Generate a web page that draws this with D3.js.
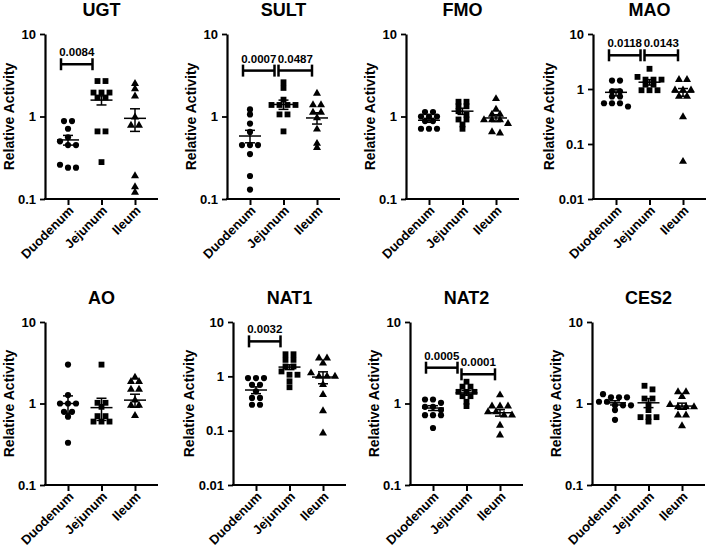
<!DOCTYPE html>
<html>
<head>
<meta charset="utf-8">
<script src="https://cdn.jsdelivr.net/npm/d3@7/dist/d3.min.js"></script>
<style>
  body { margin: 0; background: #fff; }
  svg { display: block; }
  text { font-family: Arial, "Liberation Sans", sans-serif; font-weight: bold; fill: #000; }
</style>
</head>
<body>
<svg id="chart" width="709" height="551"></svg>
<script>
// --- data ---
const groups = ["Duodenum", "Jejunum", "Ileum"];
const enzymes = ["UGT", "SULT", "FMO", "MAO", "AO", "NAT1", "NAT2", "CES2"];
const ticksShort = [0.1, 1, 10];
const ticksLong = [0.01, 0.1, 1, 10];

// relative activity per donor: [Duodenum, Jejunum, Ileum]
const ugt = [
  [0.88, 0.88, 0.71, 0.56, 0.50, 0.45, 0.45, 0.26, 0.24, 0.24],
  [2.69, 2.69, 1.95, 1.95, 1.95, 1.70, 1.70, 0.66, 0.66, 0.28],
  [2.5, 2.16, 1.76, 0.98, 0.78, 0.78, 0.19, 0.14, 0.12]
];
const sult = [
  [1.22, 1.06, 0.82, 0.65, 0.45, 0.45, 0.45, 0.35, 0.19, 0.13],
  [2.6, 2.22, 1.6, 1.38, 1.38, 1.38, 1.38, 1.06, 1.06, 0.66],
  [1.9, 1.38, 1.38, 1.12, 1.12, 0.96, 0.70, 0.47, 0.42]
];
const fmo = [
  [1.13, 1.13, 1.0, 1.0, 1.0, 0.88, 0.88, 0.71, 0.71, 0.71],
  [1.51, 1.51, 1.33, 1.33, 1.16, 1.05, 0.92, 0.92, 0.80, 0.71],
  [1.64, 1.22, 1.06, 1.06, 0.91, 0.91, 0.91, 0.82, 0.65, 0.63]
];
const mao = [
  [1.42, 1.42, 0.91, 0.91, 0.73, 0.73, 0.55, 0.55, 0.55, 0.48],
  [2.33, 1.66, 1.48, 1.48, 1.48, 1.2, 1.2, 0.95, 0.95, 0.95],
  [1.48, 1.48, 0.95, 0.95, 0.95, 0.73, 0.73, 0.31, 0.048]
];
const ao = [
  [3.0, 1.27, 1.0, 1.0, 1.0, 0.79, 0.79, 0.69, 0.33],
  [3.0, 1.02, 1.02, 0.91, 0.70, 0.70, 0.60, 0.60, 0.60],
  [2.09, 1.85, 1.85, 1.49, 1.49, 1.1, 0.95, 0.95, 0.71]
];
const nat1 = [
  [0.93, 0.93, 0.93, 0.70, 0.70, 0.53, 0.40, 0.40, 0.30, 0.30],
  [2.55, 2.55, 2.01, 2.01, 1.52, 1.52, 1.23, 1.07, 1.07, 0.81, 0.63],
  [2.16, 2.16, 1.75, 1.15, 1.0, 1.0, 1.0, 0.70, 0.46, 0.23, 0.09]
];
const nat2 = [
  [1.12, 1.12, 1.02, 0.91, 0.91, 0.83, 0.72, 0.72, 0.72, 0.50],
  [1.85, 1.61, 1.61, 1.39, 1.39, 1.39, 1.23, 1.23, 1.05, 0.93],
  [1.27, 0.93, 0.93, 0.93, 0.79, 0.79, 0.72, 0.72, 0.54, 0.41]
];
const ces2 = [
  [1.30, 1.19, 1.19, 1.19, 1.05, 1.05, 0.95, 0.95, 0.95, 0.83, 0.63],
  [1.65, 1.49, 1.15, 1.15, 0.97, 0.83, 0.68, 0.68, 0.68, 0.60],
  [1.39, 1.39, 1.21, 0.97, 0.91, 0.91, 0.91, 0.72, 0.72, 0.53]
];

// group mean and SEM as drawn
const means = {
  UGT: [0.52, 1.58, 0.95], SULT: [0.58, 1.40, 0.96], FMO: [0.90, 1.16, 0.96], MAO: [0.87, 1.33, 0.88],
  AO: [1.0, 0.89, 1.1], NAT1: [0.56, 1.48, 0.97], NAT2: [0.88, 1.35, 0.77], CES2: [1.02, 1.02, 0.93]
};
const sems = {
  UGT: [0.07, 0.2, 0.29], SULT: [0.1, 0.18, 0.15], FMO: [0.05, 0.1, 0.09], MAO: [0.12, 0.15, 0.14],
  AO: [0.24, 0.27, 0.2], NAT1: [0.08, 0.15, 0.24], NAT2: [0.06, 0.09, 0.07], CES2: [0.06, 0.13, 0.08]
};

// significance brackets: groups compared, p value, height (relative activity)
const brackets = {
  UGT: [[0, 1, "0.0084", 4.3]],
  SULT: [[0, 1, "0.0007", 3.6], [1, 2, "0.0487", 3.6]],
  MAO: [[0, 1, "0.0118", 4.1], [1, 2, "0.0143", 4.1]],
  NAT1: [[0, 1, "0.0032", 4.4]],
  NAT2: [[0, 1, "0.0005", 2.75], [1, 2, "0.0001", 2.28]]
};

const values = { UGT: ugt, SULT: sult, FMO: fmo, MAO: mao, AO: ao, NAT1: nat1, NAT2: nat2, CES2: ces2 };
const longAxis = ["MAO", "NAT1"];

// --- layout ---
const svg = d3.select("#chart");
const axisX = [[45, 227, 406, 593], [45, 233, 410, 592]];
const rows = [{ top: 34, bottom: 199 }, { top: 322, bottom: 485 }];
const axisLen = 113;

const symbols = [d3.symbolCircle, d3.symbolSquare, d3.symbolTriangle];
const symbolSize = [30, 34, 28];

enzymes.forEach(function(name, i) {
  const r = Math.floor(i / 4), c = i % 4;
  const x0 = axisX[r][c];
  const row = rows[r];
  const ticks = longAxis.includes(name) ? ticksLong : ticksShort;

  const y = d3.scaleLog()
    .domain([ticks[0], ticks[ticks.length - 1]])
    .range([row.bottom, row.top]);
  const x = d3.scalePoint()
    .domain(groups)
    .range([x0 + 23, x0 + 90]);

  const g = svg.append("g");

  // title
  g.append("text")
    .attr("x", x0 + axisLen / 2)
    .attr("y", row.top - 18)
    .attr("text-anchor", "middle")
    .style("font-size", "18px")
    .text(name);

  // y axis
  const yAxis = g.append("g")
    .attr("transform", `translate(${x0},0)`)
    .call(d3.axisLeft(y).tickValues(ticks).tickFormat(d => String(d)).tickSize(5).tickSizeOuter(0).tickPadding(4));
  yAxis.select(".domain").attr("stroke-width", 2.2);
  yAxis.selectAll(".tick line").attr("stroke-width", 1.8);
  yAxis.selectAll(".tick text").style("font-size", "13px").style("font-family", "Arial, 'Liberation Sans', sans-serif").style("font-weight", "bold");

  // y label
  const labelX = x0 - (ticks === ticksLong ? 43 : 35);
  g.append("text")
    .attr("transform", `translate(${labelX},${(row.top + row.bottom) / 2}) rotate(-90)`)
    .attr("text-anchor", "middle")
    .attr("dominant-baseline", "middle")
    .style("font-size", "14px")
    .text("Relative Activity");

  // x axis
  g.append("line")
    .attr("x1", x0 - 1).attr("x2", x0 + axisLen)
    .attr("y1", row.bottom).attr("y2", row.bottom)
    .attr("stroke", "#000").attr("stroke-width", 2.2);
  const xAxis = g.append("g")
    .attr("transform", `translate(0,${row.bottom})`)
    .call(d3.axisBottom(x).tickSize(6).tickFormat(""));
  xAxis.select(".domain").remove();
  xAxis.selectAll(".tick line").attr("stroke-width", 2);

  groups.forEach(function(grp) {
    g.append("text")
      .attr("transform", `translate(${x(grp) + 4},${row.bottom + 10}) rotate(-45)`)
      .attr("text-anchor", "end")
      .attr("dominant-baseline", "middle")
      .style("font-size", "13px")
      .text(grp);
  });

  // points, spread sideways in rows like a column scatter
  values[name].forEach(function(vals, gi) {
    const cx = x(groups[gi]);
    const pts = vals.map(v => y(v)).sort((a, b) => a - b);
    const clusters = [];
    pts.forEach(function(py) {
      const last = clusters[clusters.length - 1];
      if (last && py - last[0] < 4) last.push(py);
      else clusters.push([py]);
    });
    clusters.forEach(function(cl) {
      cl.forEach(function(py, k) {
        const dx = (k - (cl.length - 1) / 2) * 8;
        g.append("path")
          .attr("d", d3.symbol().type(symbols[gi]).size(symbolSize[gi])())
          .attr("transform", `translate(${cx + dx},${py})`)
          .attr("fill", "#000");
      });
    });

    // mean and SEM
    const m = means[name][gi], s = sems[name][gi];
    const eb = g.append("g").attr("stroke", "#000").attr("stroke-width", 1.5);
    eb.append("line").attr("x1", cx - 11).attr("x2", cx + 11).attr("y1", y(m)).attr("y2", y(m));
    eb.append("line").attr("x1", cx).attr("x2", cx).attr("y1", y(m + s)).attr("y2", y(m - s));
    eb.append("line").attr("x1", cx - 5).attr("x2", cx + 5).attr("y1", y(m + s)).attr("y2", y(m + s));
    eb.append("line").attr("x1", cx - 5).attr("x2", cx + 5).attr("y1", y(m - s)).attr("y2", y(m - s));
  });

  // significance brackets
  (brackets[name] || []).forEach(function(b) {
    const xa = x(groups[b[0]]) - (b[0] === 1 ? 5 : 7);
    const xb = x(groups[b[1]]) - (b[1] === 1 ? 9 : 5);
    const by = y(b[3]);
    const br = g.append("g").attr("stroke", "#000").attr("stroke-width", 2.5).attr("fill", "none");
    br.append("line").attr("x1", xa).attr("x2", xb).attr("y1", by).attr("y2", by);
    br.append("line").attr("x1", xa).attr("x2", xa).attr("y1", by - 6).attr("y2", by + 6);
    br.append("line").attr("x1", xb).attr("x2", xb).attr("y1", by - 6).attr("y2", by + 6);
    g.append("text")
      .attr("x", (xa + xb) / 2)
      .attr("y", by - 8)
      .attr("text-anchor", "middle")
      .style("font-size", "11.5px")
      .text(b[2]);
  });
});
</script>
</body>
</html>
